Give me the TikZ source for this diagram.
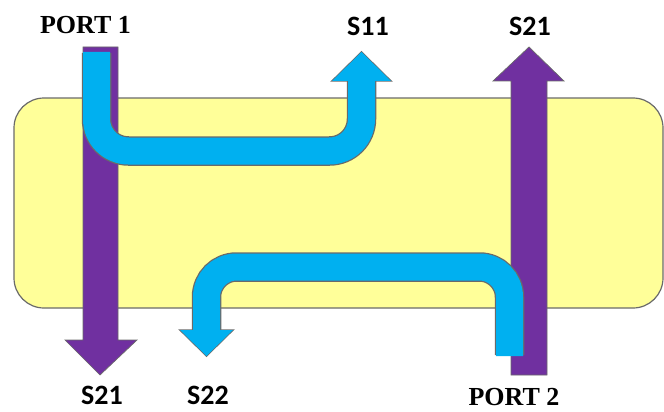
\documentclass[tikz,border=0pt]{standalone}
\usepackage{fontspec}
\setmainfont{Liberation Serif}
\newfontfamily\labelsans{Carlito}

\definecolor{sigblue}{HTML}{00B0F0}
\definecolor{sigpurple}{HTML}{7030A0}
\definecolor{boardfill}{HTML}{FFFF99}
\definecolor{edgegray}{HTML}{6A6A6A}

\begin{document}
\begin{tikzpicture}[x=1pt,y=-1pt,
  portlabel/.style={font=\bfseries\fontsize{26}{26}\selectfont, inner sep=0pt},
  plabel/.style={font=\labelsans\bfseries\fontsize{28}{28}\selectfont, inner sep=0pt},
  board/.style={draw=edgegray, fill=boardfill, line width=1.2pt, rounded corners=30pt},
  thru/.style={draw=edgegray, fill=sigpurple, line width=0.7pt, line join=miter},
  refledge/.style={edgegray, line width=29.5pt},
  reflbody/.style={sigblue, line width=27pt},
  headedge/.style={draw=edgegray, fill=edgegray, line width=1.5pt, line join=miter},
  headbody/.style={fill=sigblue}
]
\useasboundingbox (0,0) rectangle (664,412);

% circuit board
\path[board] (14,98) rectangle (663,308);

% transmitted waves (S21)
\path[thru] (83,47) -- (118,47) -- (118,340) -- (137,340) -- (100,375)
  -- (65,340) -- (83,340) -- cycle;
\path[thru] (511,375) -- (547,375) -- (547,81) -- (564,81) -- (529,47)
  -- (493,81) -- (511,81) -- cycle;

% reflected wave at port 1 (S11)
\coordinate (a1) at (96.5,52);
\coordinate (a2) at (96.5,151);
\coordinate (a3) at (361.5,151);
\coordinate (a4) at (361.5,81);
\draw[refledge, rounded corners=32pt] ([yshift=-1pt]a1) -- (a2) -- (a3) -- (a4);
\path[headedge] (332,81) -- (361.5,52) -- (391,81) -- cycle;
\draw[reflbody, rounded corners=32pt] (a1) -- (a2) -- (a3) -- (a4);
\path[headbody] (332,81) -- (361.5,52) -- (391,81) -- cycle;

% reflected wave at port 2 (S22)
\coordinate (b1) at (509.5,356);
\coordinate (b2) at (509.5,267);
\coordinate (b3) at (206.5,267);
\coordinate (b4) at (206.5,330);
\draw[refledge, rounded corners=30pt] ([yshift=1pt]b1) -- (b2) -- (b3) -- (b4);
\path[headedge] (180,330) -- (206.5,356) -- (233,330) -- cycle;
\draw[reflbody, rounded corners=30pt] (b1) -- (b2) -- (b3) -- (b4);
\path[headbody] (180,330) -- (206.5,356) -- (233,330) -- cycle;

% labels
\node[portlabel] (port1) at (85.5,25) {PORT 1};
\node[portlabel] (port2) at (514,397) {PORT 2};
\node[plabel] (s11) at (368,26) {S11};
\node[plabel] (s21top) at (530,26) {S21};
\node[plabel] (s21bot) at (102,395) {S21};
\node[plabel] (s22) at (208,395) {S22};
\end{tikzpicture}
\end{document}
